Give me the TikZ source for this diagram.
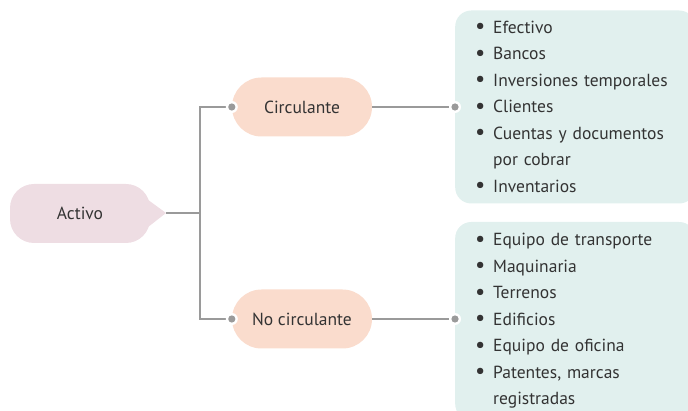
\documentclass[tikz,border=0pt]{standalone}
\usepackage{fontspec}
\setmainfont{PT Sans}
\definecolor{rosa}{HTML}{EEDDE3}
\definecolor{durazno}{HTML}{FADCCD}
\definecolor{agua}{HTML}{E1F0EE}
\definecolor{gris}{HTML}{9A9A9A}
\definecolor{texto}{HTML}{333333}
\newcommand\itm[1]{\makebox[18pt][l]{\raisebox{-0.5pt}{\scalebox{1.3}{\textbullet}}}#1}
\tikzset{
  caja/.style={fill=#1, text=texto, minimum height=59pt, minimum width=140pt,
    inner sep=0pt, font=\fontsize{17.5}{20}\selectfont},
  lista/.style={fill=agua, text=texto, rounded corners=16pt, anchor=west,
    text width=200pt, inner xsep=20pt, inner ysep=0pt, align=left,
    font=\fontsize{17.5}{26.5}\selectfont},
  linea/.style={draw=gris, line width=1.6pt},
  punto/.style={fill=white, draw=none}
}
\begin{document}
\begin{tikzpicture}[x=1pt,y=-1pt]
  \useasboundingbox (0,0) rectangle (688,411);
  \node[caja=rosa, rounded corners=24pt] (activo) at (80,213.5) {Activo};
  \coordinate (punta) at (166,213);
  \coordinate (rama) at (200,213);
  \fill[rosa] ([shift={(-4,-15)}]activo.east) -- (punta) -- ([shift={(-4,15)}]activo.east) -- cycle;
  \node[caja=durazno, rounded corners=29.5pt] (circ) at (302,107) {Circulante};
  \node[caja=durazno, rounded corners=29.5pt] (nocirc) at (302,319) {No circulante};
  \node[lista, minimum height=193pt] (lista1) at (455,107) {%
    \itm{Efectivo}\\
    \itm{Bancos}\\
    \itm{Inversiones temporales}\\
    \itm{Clientes}\\
    \itm{Cuentas y documentos}\\
    \hspace*{18pt}por cobrar\\
    \itm{Inventarios}};
  \node[lista, minimum height=198pt] (lista2) at (455,321) {%
    \itm{Equipo de transporte}\\
    \itm{Maquinaria}\\
    \itm{Terrenos}\\
    \itm{Edificios}\\
    \itm{Equipo de oficina}\\
    \itm{Patentes, marcas}\\
    \hspace*{18pt}registradas};
  \begin{scope}[linea]
    \draw (punta) -- (rama);
    \draw (rama) |- (circ.west);
    \draw (rama) |- (nocirc.west);
    \draw (circ.east) -- (lista1.west);
    \draw (nocirc.east) -- (nocirc.east -| lista2.west);
  \end{scope}
  \foreach \p in {circ.west, nocirc.west, lista1.west} {
    \fill[white] (\p) circle (6pt);
    \fill[gris] (\p) circle (3.6pt);
  }
  \fill[white] (nocirc.east -| lista2.west) circle (6pt);
  \fill[gris] (nocirc.east -| lista2.west) circle (3.6pt);
\end{tikzpicture}
\end{document}
